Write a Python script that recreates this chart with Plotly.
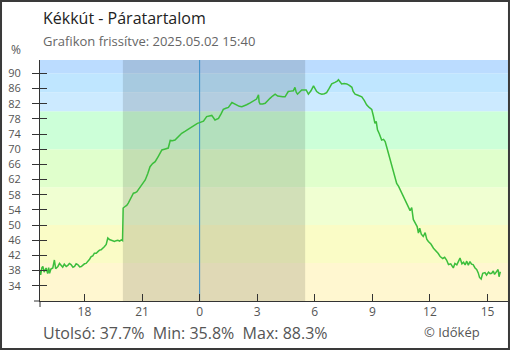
import plotly.graph_objects as go

# ---- data ----
day1_times = ["15:40", "15:43", "15:47", "15:50", "15:54", "16:00", "16:05", "16:08", "16:11", "16:15",
              "16:21", "16:26", "16:30", "16:37", "16:42", "16:47", "16:52", "16:57", "17:03", "17:08",
              "17:13", "17:18", "17:24", "17:29", "17:34", "17:39", "17:45", "17:50", "17:55", "18:00",
              "18:05", "18:11", "18:16", "18:21", "18:26", "18:31", "18:37", "18:42", "18:47", "18:52",
              "18:57", "19:02", "19:08", "19:13", "19:18", "19:23", "19:29", "19:34", "19:39", "19:44",
              "19:50", "19:55", "19:59", "20:00", "20:01", "20:07", "20:12", "20:17", "20:23", "20:28",
              "20:33", "20:38", "20:44", "20:49", "20:54", "21:04", "21:10", "21:18", "21:25", "21:33",
              "21:41", "21:50", "22:02", "22:10", "22:16", "22:22", "22:28", "22:35", "22:43", "22:53",
              "23:04", "23:14", "23:25", "23:35", "23:46", "23:53"]
day1_values = [38.2, 36.9, 38.8, 39.1, 37.6, 38.7, 37.2, 38.8, 37.3, 38.4,
               38.7, 40.8, 38.5, 39.1, 39.9, 39.5, 38.9, 39.7, 39.1, 39.4,
               39.9, 39.6, 38.9, 39.1, 39.8, 39.6, 39.0, 39.1, 39.5, 39.8,
               39.9, 40.4, 41.0, 41.7, 41.9, 42.6, 42.6, 43.0, 43.4, 43.5,
               43.8, 44.3, 44.9, 46.6, 46.2, 46.1, 45.8, 45.7, 45.9, 46.0,
               45.8, 46.1, 45.9, 51.0, 54.5, 54.9, 55.2, 55.8, 56.7, 57.5,
               58.4, 58.5, 58.8, 59.4, 60.0, 61.0, 61.9, 63.6, 65.4, 66.2,
               66.7, 68.0, 69.8, 70.0, 70.2, 70.3, 72.3, 72.2, 72.4, 73.2,
               74.2, 74.7, 75.3, 75.9, 76.6, 76.8]

day2_times = ["00:00", "00:06", "00:12", "00:22", "00:30", "00:38", "00:48", "00:59", "01:07", "01:14",
              "01:22", "01:30", "01:41", "01:48", "01:56", "02:04", "02:12", "02:20", "02:27", "02:38",
              "02:48", "02:58", "03:04", "03:06", "03:09", "03:17", "03:25", "03:32", "03:40", "03:48",
              "03:56", "04:04", "04:12", "04:20", "04:27", "04:37", "04:45", "04:53", "04:58", "05:02",
              "05:06", "05:12", "05:19", "05:26", "05:33", "05:40", "05:48", "05:56", "06:00", "06:06",
              "06:14", "06:22", "06:30", "06:37", "06:45", "06:53", "07:03", "07:10", "07:14", "07:18",
              "07:24", "07:32", "07:40", "07:48", "07:56", "08:00", "08:06", "08:15", "08:27", "08:35",
              "08:42", "08:50", "08:58", "09:03", "09:08", "09:12", "09:16", "09:22", "09:29", "09:35",
              "09:40", "09:45", "09:50", "09:56", "10:01", "10:05", "10:08", "10:12", "10:16", "10:22",
              "10:27", "10:35", "10:42", "10:50", "10:58", "11:03", "11:08", "11:15", "11:20", "11:24",
              "11:28", "11:33", "11:39", "11:45", "11:50", "11:55", "12:03", "12:11", "12:20", "12:26",
              "12:32", "12:40", "12:46", "12:52", "12:58", "13:05", "13:13", "13:18", "13:24", "13:30",
              "13:34", "13:40", "13:45", "13:50", "13:55", "14:00", "14:05", "14:10", "14:15", "14:21",
              "14:26", "14:31", "14:35", "14:40", "14:45", "14:52", "14:57", "15:03", "15:08", "15:13",
              "15:18", "15:22", "15:26", "15:29", "15:33", "15:36", "15:40"]
day2_values = [77.0, 77.1, 77.4, 78.6, 78.8, 78.9, 77.7, 78.1, 79.3, 80.5,
               80.8, 81.0, 82.3, 82.0, 81.7, 81.3, 81.2, 81.4, 81.7, 82.2,
               82.7, 83.2, 84.3, 82.4, 81.9, 81.9, 82.1, 82.8, 83.4, 84.0,
               84.5, 84.0, 83.8, 83.8, 83.8, 85.2, 85.3, 85.4, 86.3, 85.0,
               84.5, 85.1, 85.6, 85.6, 85.6, 84.5, 85.4, 86.7, 85.9, 85.2,
               84.7, 84.5, 84.6, 84.9, 86.0, 87.2, 87.6, 87.9, 88.3, 87.8,
               87.2, 87.3, 87.2, 86.8, 86.3, 85.2, 84.5, 84.2, 83.8, 82.8,
               81.7, 81.0, 80.5, 78.8, 76.8, 77.3, 75.1, 74.0, 72.4, 72.6,
               72.0, 70.5, 68.9, 67.0, 65.4, 64.8, 63.7, 62.4, 61.0, 60.2,
               59.3, 57.6, 56.4, 55.0, 53.8, 54.6, 51.5, 50.4, 49.6, 47.9,
               49.2, 47.6, 47.0, 48.0, 46.3, 45.7, 45.0, 43.9, 43.2, 42.5,
               41.7, 41.2, 41.5, 40.8, 39.6, 39.8, 38.7, 39.9, 39.5, 40.6,
               41.3, 39.8, 40.2, 39.5, 40.5, 39.4, 40.4, 39.7, 39.6, 38.7,
               38.3, 37.4, 36.2, 35.8, 37.3, 37.5, 36.8, 37.6, 37.2, 37.3,
               37.9, 37.0, 37.4, 37.8, 38.3, 36.4, 37.7]

band_edges = [30, 40, 50, 60, 70, 80, 85, 90, 93.5]
band_colors = ["#fff7d0", "#fafcc6", "#f0ffd2", "#e0ffcc", "#ccffd8", "#cceaff", "#bfe6ff", "#bbdcff"]

y_ticks = [34, 38, 42, 46, 50, 54, 58, 62, 66, 70, 74, 78, 82, 86, 90]
x_tick_vals = ["2025-05-01 18:00", "2025-05-01 21:00", "2025-05-02 00:00", "2025-05-02 03:00",
               "2025-05-02 06:00", "2025-05-02 09:00", "2025-05-02 12:00", "2025-05-02 15:00"]
x_tick_text = ["18", "21", "0", "3", "6", "9", "12", "15"]
x_range = ["2025-05-01 15:41", "2025-05-02 16:04"]
y_range = [30, 93.5]

night = ["2025-05-01 20:00", "2025-05-02 05:30"]
midnight = "2025-05-02 00:00"

title = "Kékkút - Páratartalom"
subtitle = "Grafikon frissítve: 2025.05.02 15:40"
footer = "Utolsó: 37.7%  Min: 35.8%  Max: 88.3%"
credit = "© Időkép"

times = ["2025-05-01 " + t for t in day1_times] + ["2025-05-02 " + t for t in day2_times]
values = day1_values + day2_values

FONT = "Open Sans"
fig = go.Figure()
fig.add_trace(go.Scatter(x=times, y=values, mode="lines",
                         line=dict(color="#3cbe3c", width=1.5), showlegend=False,
                         hoverinfo="skip"))
# invisible trace to activate secondary axes
fig.add_trace(go.Scatter(x=[times[0]], y=[values[0]], mode="markers", marker=dict(opacity=0),
                         xaxis="x2", yaxis="y2", showlegend=False, hoverinfo="skip"))

shapes = []
for i, c in enumerate(band_colors):
    shapes.append(dict(type="rect", xref="paper", yref="y", x0=0, x1=1,
                       y0=band_edges[i], y1=band_edges[i + 1], fillcolor=c,
                       line=dict(width=0), layer="below"))
shapes.append(dict(type="rect", xref="x", yref="paper", x0=night[0], x1=night[1], y0=0, y1=1,
                   fillcolor="rgba(0,0,0,0.12)", line=dict(width=0), layer="below"))
shapes.append(dict(type="line", xref="x", yref="paper", x0=midnight, x1=midnight, y0=0, y1=1,
                   line=dict(color="#3a8fc8", width=1), layer="below"))
# axis corner extensions
shapes.append(dict(type="line", xref="paper", yref="paper", x0=0, x1=0, ysizemode="pixel",
                   yanchor=0, y0=0, y1=-6, line=dict(color="#333", width=1)))
shapes.append(dict(type="line", xref="paper", yref="paper", y0=0, y1=0, xsizemode="pixel",
                   xanchor=0, x0=0, x1=-6, line=dict(color="#333", width=1)))
# outer frame
shapes.append(dict(type="rect", xref="paper", yref="paper", x0=-0.0833, x1=1.0021,
                   y0=-0.1992, y1=1.2448, line=dict(color="#3a3a3a", width=2),
                   fillcolor="rgba(0,0,0,0)"))

fig.update_layout(
    width=510, height=350,
    margin=dict(l=40, r=2, t=60, b=49),
    paper_bgcolor="white", plot_bgcolor="white",
    font=dict(family=FONT, color="#555"),
    shapes=shapes,
    xaxis=dict(type="date", range=x_range, tickvals=x_tick_vals, ticktext=x_tick_text,
               ticks="inside", ticklen=7, tickcolor="#333", tickwidth=1,
               showline=True, linecolor="#333", linewidth=1, showgrid=False, zeroline=False,
               tickfont=dict(size=12, color="#555"), fixedrange=True),
    yaxis=dict(range=y_range, tickvals=y_ticks, ticks="outside", ticklen=7, tickcolor="#333",
               showline=True, linecolor="#333", linewidth=1, showgrid=False, zeroline=False,
               tickfont=dict(size=11, color="#555"), ticklabelstandoff=9),
    xaxis2=dict(overlaying="x", matches="x", type="date", range=x_range, visible=False),
    yaxis2=dict(overlaying="y", range=y_range, tickvals=y_ticks, ticks="inside", ticklen=7,
                tickcolor="#333", showticklabels=False, showgrid=False, zeroline=False,
                showline=False, side="left", anchor="x2"),
    annotations=[
        dict(text=title, xref="paper", yref="paper", x=0.002, y=1.174, xanchor="left",
             yanchor="middle", showarrow=False, font=dict(size=16, color="#222")),
        dict(text=subtitle, xref="paper", yref="paper", x=0.002, y=1.079, xanchor="left",
             yanchor="middle", showarrow=False, font=dict(size=13, color="#666")),
        dict(text="%", xref="paper", yref="paper", x=-0.051, y=1.0415, xanchor="center",
             yanchor="middle", showarrow=False, font=dict(size=12, color="#555")),
        dict(text=footer, xref="paper", yref="paper", x=0.002, y=-0.133, xanchor="left",
             yanchor="middle", showarrow=False, font=dict(size=16, color="#555")),
        dict(text=credit, xref="paper", yref="paper", x=0.944, y=-0.128, xanchor="right",
             yanchor="middle", showarrow=False, font=dict(size=13, color="#555")),
    ],
)

fig.write_html("out.html")
